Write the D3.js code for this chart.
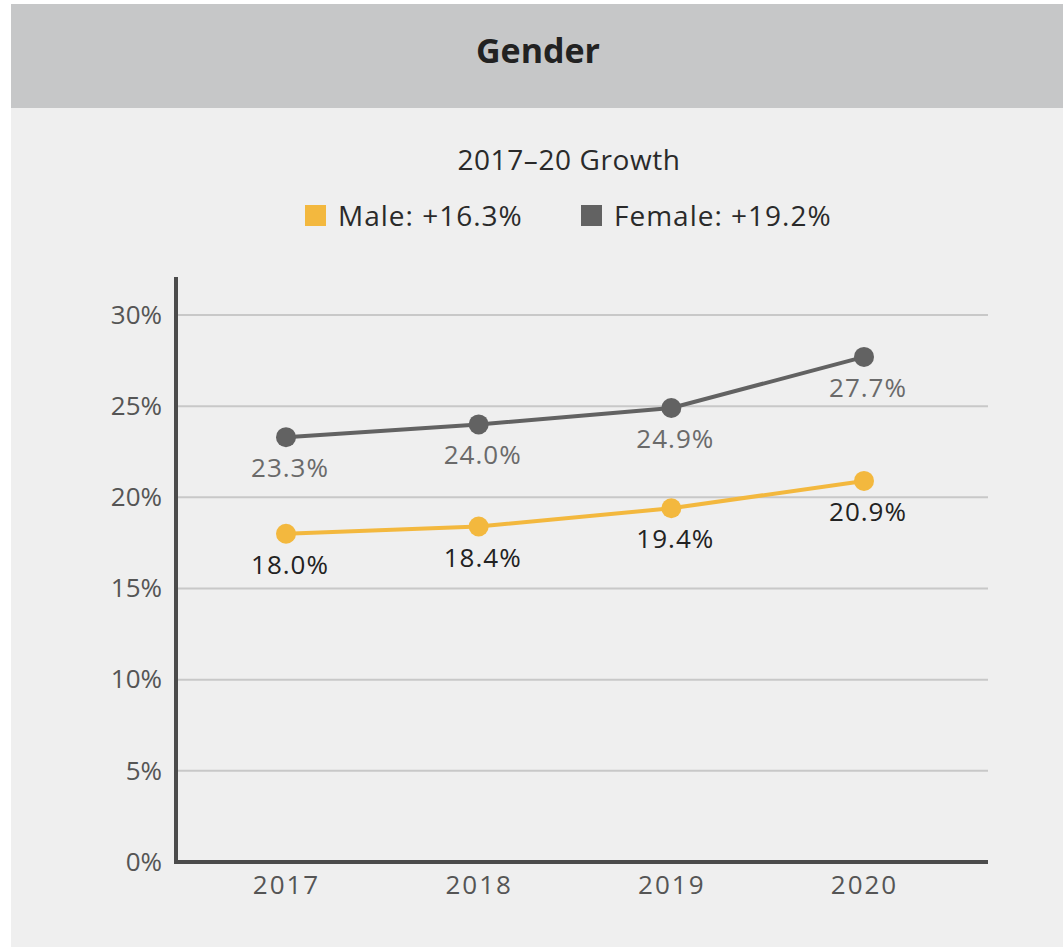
<!DOCTYPE html>
<html>
<head>
<meta charset="utf-8">
<script src="https://cdn.jsdelivr.net/npm/d3@7"></script>
<style>
  html, body { margin: 0; padding: 0; background: #ffffff; }
  svg { display: block; font-family: "Open Sans", "Noto Sans", sans-serif; }
</style>
</head>
<body>
<div id="chart"></div>
<script>
// datos del grafico
const years = ["2017", "2018", "2019", "2020"];
const maleValues = [18.0, 18.4, 19.4, 20.9];
const femaleValues = [23.3, 24.0, 24.9, 27.7];
const yTicks = [0, 5, 10, 15, 20, 25, 30];
const legendLabels = ["Male: +16.3%", "Female: +19.2%"];

const W = 1063, H = 947;
const maleColor = "#f3b83e";
const femaleColor = "#626262";

const svg = d3.select("#chart")
    .append("svg")
    .attr("width", W)
    .attr("height", H);

// fondo del panel y cabecera
svg.append("rect")
    .attr("x", 11).attr("y", 4)
    .attr("width", W - 11).attr("height", H - 4)
    .attr("fill", "#efefef");

svg.append("rect")
    .attr("x", 11).attr("y", 4)
    .attr("width", W - 11).attr("height", 104)
    .attr("fill", "#c6c7c8");

svg.append("text")
    .attr("x", 538).attr("y", 63)
    .attr("text-anchor", "middle")
    .style("font-size", "34px")
    .style("font-weight", "bold")
    .attr("fill", "#222")
    .text("Gender");

svg.append("text")
    .attr("x", 569).attr("y", 170)
    .attr("text-anchor", "middle")
    .style("font-size", "28px")
    .style("letter-spacing", "0.6px")
    .attr("fill", "#2a2a2a")
    .text("2017\u201320 Growth");

// leyenda
const legend = svg.append("g");
const legendItems = [
    { label: legendLabels[0], color: maleColor, x: 305 },
    { label: legendLabels[1], color: femaleColor, x: 581 }
];
legendItems.forEach(d => {
    legend.append("rect")
        .attr("x", d.x).attr("y", 205)
        .attr("width", 21).attr("height", 21)
        .attr("fill", d.color);
    legend.append("text")
        .attr("x", d.x + 33).attr("y", 226)
        .style("font-size", "28px")
        .style("letter-spacing", "1px")
        .attr("fill", "#2a2a2a")
        .text(d.label);
});

// escalas
const x = d3.scalePoint()
    .domain(years)
    .range([286, 864]);

const y = d3.scaleLinear()
    .domain([0, 30])
    .range([862, 315]);

const left = 176, right = 988;

// lineas de la cuadricula
svg.append("g")
    .selectAll("line")
    .data(yTicks.filter(t => t > 0))
    .enter()
    .append("line")
    .attr("x1", left).attr("x2", right)
    .attr("y1", d => y(d)).attr("y2", d => y(d))
    .attr("stroke", "#c8c8c8")
    .attr("stroke-width", 2);

// etiquetas eje Y
const yAxis = d3.axisLeft(y)
    .tickValues(yTicks)
    .tickSize(0)
    .tickPadding(14)
    .tickFormat(d => d + "%");

svg.append("g")
    .attr("transform", `translate(${left},0)`)
    .call(yAxis)
    .call(g => g.select(".domain").remove())
    .call(g => g.selectAll("text")
        .style("font-size", "26px")
        .style("font-family", "'Open Sans', sans-serif")
        .attr("fill", "#555"));

// etiquetas eje X
const xAxis = d3.axisBottom(x)
    .tickSize(0)
    .tickPadding(14);

svg.append("g")
    .attr("transform", `translate(0,${y(0)})`)
    .call(xAxis)
    .call(g => g.select(".domain").remove())
    .call(g => g.selectAll("text")
        .style("font-size", "26px")
        .style("font-family", "'Open Sans', sans-serif")
        .style("letter-spacing", "2px")
        .attr("fill", "#555"));

// ejes principales
svg.append("line")
    .attr("x1", left).attr("x2", left)
    .attr("y1", 277).attr("y2", y(0) + 2)
    .attr("stroke", "#4b4b4b")
    .attr("stroke-width", 4);

svg.append("line")
    .attr("x1", left - 2).attr("x2", right)
    .attr("y1", y(0)).attr("y2", y(0))
    .attr("stroke", "#4b4b4b")
    .attr("stroke-width", 4);

// series
const series = [
    { name: "Female", values: femaleValues, color: femaleColor, labelColor: "#6a6a6a" },
    { name: "Male", values: maleValues, color: maleColor, labelColor: "#222" }
];

const line = d3.line()
    .x((d, i) => x(years[i]))
    .y(d => y(d));

series.forEach(s => {
    const g = svg.append("g");

    g.append("path")
        .datum(s.values)
        .attr("d", line)
        .attr("fill", "none")
        .attr("stroke", s.color)
        .attr("stroke-width", 4);

    g.selectAll("circle")
        .data(s.values)
        .enter()
        .append("circle")
        .attr("cx", (d, i) => x(years[i]))
        .attr("cy", d => y(d))
        .attr("r", 10)
        .attr("fill", s.color);

    g.selectAll("text")
        .data(s.values)
        .enter()
        .append("text")
        .attr("x", (d, i) => x(years[i]) + 4)
        .attr("y", d => y(d) + 40)
        .attr("text-anchor", "middle")
        .style("font-size", "26px")
        .style("letter-spacing", "1px")
        .attr("fill", s.labelColor)
        .text(d => d3.format(".1f")(d) + "%");
});
</script>
</body>
</html>
